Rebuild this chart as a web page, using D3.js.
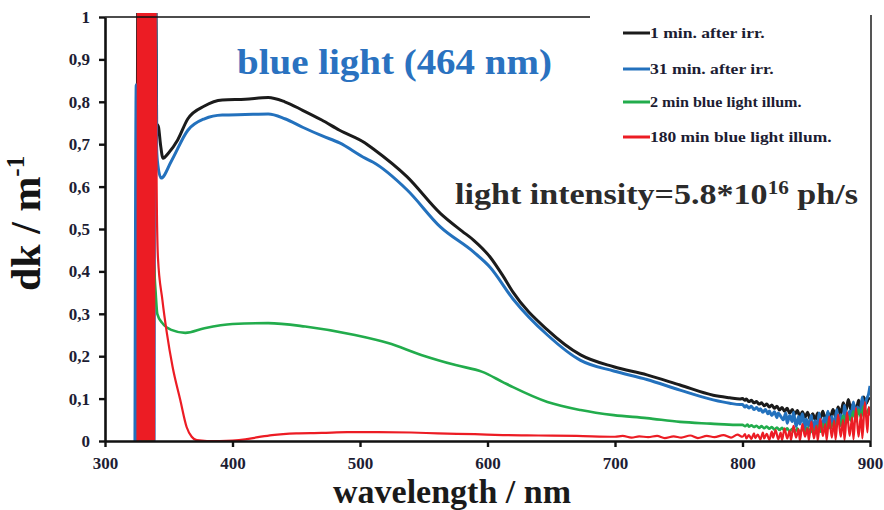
<!DOCTYPE html>
<html><head><meta charset="utf-8">
<script src="https://cdn.jsdelivr.net/npm/d3@7"></script>
<style>
html,body{margin:0;padding:0;background:#fff;}
svg{display:block;}
text{font-family:"Liberation Serif","Times New Roman",serif;font-weight:bold;}
</style></head>
<body>
<svg id="c" width="884" height="510"></svg>
<script>
// ---- data ----
const xTicks = [300,400,500,600,700,800,900];
const xTickLabels = ["300","400","500","600","700","800","900"];
const yTicks = [0,0.1,0.2,0.3,0.4,0.5,0.6,0.7,0.8,0.9,1];
const yTickLabels = ["0","0,1","0,2","0,3","0,4","0,5","0,6","0,7","0,8","0,9","1"];
const seriesNames = ["1 min. after irr.","31 min. after irr.","2 min blue light illum.","180 min blue light illum."];
const seriesColors = ["#1b1b1b","#2371bd","#22ac4c","#ec1c24"];

const black1min = [[325,0],[326,1.3],[339.5,1.3],[340.5,0.75],[342,0.74],[343.5,0.70],[345.5,0.667],[350,0.68],[357,0.71],[365,0.76],[378,0.79],[392,0.804],[410,0.806],[428,0.81],[441,0.80],[455,0.78],[470,0.757],[484,0.733],[504,0.703],[510,0.69],[537,0.623],[563,0.537],[580,0.495],[589,0.474],[602,0.434],[612,0.39],[620,0.351],[647,0.262],[673,0.203],[699,0.175],[725,0.156],[751,0.132],[777,0.108],[790,0.102],[798,0.099],
 [800,0.100],[802,0.096],[803,0.099],[805,0.093],[807,0.096],[809,0.090],[811,0.093],[813,0.087],[815,0.090],[817,0.083],[819,0.087],[821,0.080],[823,0.085],[825,0.077],[827,0.082],[829,0.073],[831,0.079],[833,0.070],[835,0.077],[837,0.066],[839,0.074],[841,0.063],[843,0.072],[845,0.058],[847,0.069],[849,0.056],[851,0.068],[853,0.052],[855,0.064],[857,0.050],[859,0.066],[861,0.054],[863,0.070],[865,0.048],[867,0.066],[869,0.056],[871,0.074],[873,0.058],[875,0.080],[877,0.062],[879,0.090],[881,0.070],[883,0.098],[885,0.074],[887,0.088],[889,0.068],[891,0.096],[893,0.078],[895,0.104],[897,0.088],[899,0.100],[900,0.098]];

const blue31min = [[323.5,0],[324.5,0.84],[325,0],[329.5,0],[330,1.3],[330.5,0],[338.5,0],[339,1.3],[340.5,0.69],[341.5,0.65],[344,0.62],[352,0.66],[365,0.733],[378,0.76],[392,0.769],[410,0.77],[428,0.771],[441,0.76],[455,0.74],[470,0.72],[484,0.703],[504,0.667],[510,0.658],[537,0.592],[563,0.505],[589,0.446],[602,0.41],[620,0.335],[647,0.25],[673,0.19],[699,0.165],[725,0.145],[751,0.12],[777,0.097],[790,0.089],[798,0.086],
 [800,0.086],[802,0.080],[803,0.084],[805,0.078],[807,0.082],[809,0.074],[811,0.079],[813,0.072],[814,0.076],[816,0.068],[818,0.074],[820,0.064],[821,0.071],[823,0.060],[825,0.069],[827,0.055],[828,0.066],[830,0.058],[832,0.050],[834,0.066],[835,0.042],[837,0.060],[839,0.046],[840,0.068],[842,0.034],[844,0.058],[845,0.040],[847,0.064],[849,0.028],[850,0.052],[852,0.036],[854,0.060],[855,0.022],[857,0.048],[859,0.030],[860,0.066],[862,0.026],[864,0.054],[865,0.040],[867,0.070],[869,0.030],[870,0.058],[872,0.036],[874,0.074],[875,0.044],[877,0.062],[879,0.034],[880,0.084],[882,0.048],[884,0.070],[885,0.056],[887,0.092],[889,0.052],[890,0.080],[892,0.064],[894,0.104],[895,0.068],[897,0.096],[899,0.112],[900,0.130]];

const green2min = [[329.5,0],[330,0.95],[330.5,0],[337.5,0],[338,0.42],[339.5,0.36],[341,0.30],[345,0.278],[352,0.262],[363,0.255],[378,0.266],[400,0.276],[428,0.278],[457,0.27],[496,0.25],[522,0.231],[548,0.203],[575,0.179],[596,0.163],[612,0.139],[620,0.127],[647,0.092],[673,0.073],[699,0.061],[725,0.054],[751,0.045],[775,0.041],[795,0.038],
 [800,0.038],[802,0.035],[804,0.039],[805,0.034],[807,0.037],[809,0.033],[811,0.036],[813,0.031],[815,0.035],[817,0.030],[819,0.034],[821,0.029],[823,0.033],[825,0.027],[827,0.032],[829,0.026],[831,0.031],[833,0.024],[835,0.030],[837,0.022],[839,0.029],[841,0.021],[843,0.030],[845,0.019],[847,0.028],[849,0.022],[851,0.032],[853,0.019],[855,0.030],[857,0.024],[859,0.036],[861,0.022],[863,0.040],[865,0.027],[867,0.046],[869,0.030],[871,0.042],[873,0.034],[875,0.054],[877,0.036],[879,0.060],[881,0.042],[883,0.058],[885,0.048],[887,0.070],[889,0.046],[891,0.074],[893,0.056],[895,0.082],[897,0.064],[899,0.076],[900,0.080]];

const red180min = [[325.5,0],[326,1.3],[326.5,0],[327,1.3],[327.5,0],[328,1.3],[328.5,0],[329,1.3],[329.5,0],[330,1.3],[330.5,0],[331,1.3],[331.5,0],[332,1.3],[332.5,0],[333,1.3],[333.5,0],[334,1.3],[334.5,0],[335,1.3],[335.5,0],[336,1.3],[336.5,0],[337,1.3],[337.5,0],[338,1.3],[338.5,0],[339,1.3],[339.5,1.1],[340.5,0.6],[341.5,0.434],[345,0.333],[348.5,0.255],[353,0.175],[359,0.097],[364,0.033],[368,0.010],[372,0.002],[380,0.0],[390,0.0],[400,0.001],[410,0.004],[420,0.009],[431,0.014],[450,0.018],[470,0.019],[490,0.021],[514,0.021],[540,0.020],[561,0.018],[590,0.016],[612,0.014],[640,0.013],[670,0.012],[700,0.010],[706,0.012],[713,0.008],[719,0.011],[726,0.009],[733,0.012],[739,0.007],[746,0.011],[752,0.008],[759,0.013],[765,0.007],[772,0.012],[778,0.009],[785,0.014],[791,0.008],[796,0.015],
 [800,0.010],[802,0.016],[803,0.006],[805,0.014],[807,0.005],[809,0.018],[810,0.007],[812,0.015],[814,0.004],[816,0.020],[817,0.006],[819,0.017],[821,0.003],[823,0.022],[824,0.008],[826,0.026],[828,0.004],[830,0.020],[831,0.002],[833,0.030],[835,0.006],[837,0.024],[838,0.002],[840,0.036],[842,0.008],[844,0.028],[845,0.001],[847,0.040],[849,0.010],[851,0.030],[852,0.002],[854,0.046],[856,0.006],[858,0.036],[859,0.001],[861,0.052],[863,0.012],[865,0.040],[866,0.002],[868,0.058],[870,0.008],[872,0.048],[873,0.003],[875,0.062],[877,0.010],[879,0.050],[880,0.002],[882,0.068],[884,0.012],[886,0.056],[887,0.004],[889,0.078],[891,0.010],[893,0.064],[894,0.006],[896,0.092],[898,0.020],[899,0.080],[900,0.060]];

// ---- chart ----
const svg = d3.select("#c");
const L = 105, R = 870, T = 17, B = 441;
const x = d3.scaleLinear().domain([300,900]).range([L,R]);
const y = d3.scaleLinear().domain([0,1]).range([B,T]);

function fitWidth(sel, w){
  const n = sel.node(); const bb = n.getBBox();
  const sx = w / bb.width;
  const ax = +sel.attr("x") || 0, ay = +sel.attr("y") || 0;
  sel.attr("transform", (sel.attr("transform")||"") + ` translate(${ax},${ay}) scale(${sx},1) translate(${-ax},${-ay})`);
}

svg.append("defs").append("clipPath").attr("id","clip")
  .append("rect").attr("x",L).attr("y",13).attr("width",R-L+2).attr("height",B-13);

const line = d3.line().x(d=>x(d[0])).y(d=>y(d[1])).curve(d3.curveMonotoneX);
const allSeries = [black1min, blue31min, green2min, red180min];
const widths = [3,3,2.6,2.2];
const g = svg.append("g").attr("clip-path","url(#clip)");
allSeries.forEach((s,i)=>{
  g.append("path").attr("d",line(s)).attr("fill","none")
   .attr("stroke",seriesColors[i]).attr("stroke-width",widths[i]).attr("stroke-linejoin","round");
});

// frame lines
svg.append("line").attr("x1",L).attr("x2",590).attr("y1",T).attr("y2",T).attr("stroke","#111").attr("stroke-width",1.6);
svg.append("line").attr("x1",R+1).attr("x2",R+1).attr("y1",15).attr("y2",B).attr("stroke","#555").attr("stroke-width",2);

// axes
const yAxis = svg.append("g").attr("transform",`translate(${L},0)`)
  .call(d3.axisLeft(y).tickValues(yTicks).tickFormat((d,i)=>yTickLabels[i]).tickSize(6).tickSizeOuter(0));
const xAxis = svg.append("g").attr("transform",`translate(0,${B})`)
  .call(d3.axisBottom(x).tickValues(xTicks).tickFormat((d,i)=>xTickLabels[i]).tickSize(6).tickSizeOuter(0));
[yAxis,xAxis].forEach(a=>{
  a.select(".domain").attr("stroke","#111").attr("stroke-width",2.6);
  a.selectAll(".tick line").attr("stroke","#111").attr("stroke-width",2.4);
  a.selectAll("text").attr("font-family","Liberation Serif, serif").attr("font-weight","bold")
   .attr("font-size",17).attr("fill","#1d1d33");
});
yAxis.selectAll("text").attr("x",-15);
xAxis.selectAll("text").attr("y",16);

// axis titles
const yl = svg.append("text").attr("transform","translate(40,291) rotate(-90)")
  .attr("font-size",42).attr("fill","#141414");
yl.append("tspan").text("dk / m");
yl.append("tspan").attr("font-size",25).attr("dy",-16).text("-1");

svg.append("text").attr("x",452).attr("y",503).attr("text-anchor","middle")
  .attr("font-size",34).attr("fill","#1a1a1a").text("wavelength / nm");

// titles
const t1 = svg.append("text").attr("x",237).attr("y",74).attr("font-size",36)
  .attr("fill","#2a72c0").text("blue light (464 nm)");
fitWidth(t1,315);

const t2 = svg.append("text").attr("x",455).attr("y",204).attr("font-size",29).attr("fill","#2b2b2b");
t2.append("tspan").text("light intensity=5.8*10");
t2.append("tspan").attr("font-size",18).attr("dy",-10).text("16");
t2.append("tspan").attr("dy",10).text(" ph/s");
fitWidth(t2,403);

// legend
const legRows = [33,69,102,137];
const legWidths = [115,124,152,182];
seriesNames.forEach((nm,i)=>{
  svg.append("line").attr("x1",623).attr("x2",650).attr("y1",legRows[i]).attr("y2",legRows[i])
    .attr("stroke",seriesColors[i]).attr("stroke-width",3);
  const t = svg.append("text").attr("x",650).attr("y",legRows[i]+5).attr("font-size",15)
    .attr("fill","#1d1d33").text(nm);
  fitWidth(t, legWidths[i]);
});
</script>
</body></html>
